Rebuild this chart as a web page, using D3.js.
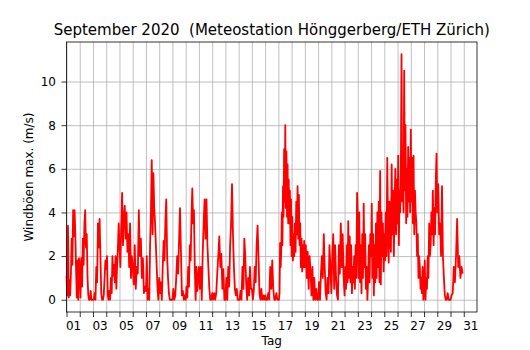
<!DOCTYPE html>
<html>
<head>
<meta charset="utf-8">
<script src="https://cdn.jsdelivr.net/npm/d3@7"></script>
<style>
body { margin: 0; background: #fff; }
svg text { font-family: "DejaVu Sans", sans-serif; fill: #000; }
.tick line { stroke: #000; stroke-width: 0.8; }
.tick line.grid-line { stroke: #b0b0b0; stroke-width: 0.8; }
</style>
</head>
<body>
<svg id="chart" width="530" height="350"></svg>
<script>
// Windböen max. (m/s), je Tag eine Liste von Messwerten (gleichmässig über den Tag verteilt)
const boeenTag01bis10 = [
    [1.1, 0.2, 3.4, 0.1, 0.9, 0.2, 1.2, 2.8, 1.6, 4.1, 2.9, 4.1, 3.0, 1.4, 0.1, 1.8, 0, 1.9],
    [1.5, 0.1, 1.9, 0.6, 2.8, 1.6, 3.5, 4.1, 2.4, 3.0, 1.0, 0.2, 0, 0, 0.4, 0, 0],
    [0, 0, 0.3, 0, 1.5, 0.8, 3.5, 2.4, 3.7, 2.0, 0.3, 0, 0, 0.2, 1.0, 1.8],
    [1.4, 2.0, 0.2, 0, 0.4, 0, 1.0, 0.3, 2.0, 1.1, 1.6, 0.8, 2.0, 0.5, 1.6, 2.4, 3.5],
    [2.5, 1.5, 3.3, 4.9, 2.5, 3.8, 4.3, 2.8, 4.0, 2.2, 3.0, 1.5, 3.5, 1.0, 2.0],
    [1.5, 0.7, 2.5, 0.5, 1.5, 1.2, 4.1, 2.0, 2.8, 1.0, 1.9, 0.3, 0.6],
    [0.4, 2.0, 0, 0.5, 0, 2.5, 4.0, 6.4, 3.0, 5.8, 4.2, 3.5, 2.5, 1.5, 0.5, 0],
    [1.0, 0.3, 0.8, 0, 1.5, 2.7, 1.8, 3.6, 4.6, 2.0, 1.0, 0.3, 0, 0, 0],
    [0, 0.5, 0, 0.2, 1.0, 2.0, 1.2, 2.7, 4.2, 2.2, 0.2, 0.4, 0, 0.2],
    [0, 0.6, 0.1, 1.5, 0.6, 2.5, 1.8, 3.8, 5.1, 3.5, 4.1, 1.5, 0, 1.5, 0.4, 1.0]
];
const boeenTag11bis20 = [
    [1.5, 0.5, 1.5, 0, 2.1, 3.5, 4.6, 2.8, 4.6, 2.5, 1.5, 0.5, 0, 0],
    [0.3, 0, 0.3, 0, 0.3, 1.2, 2.0, 2.9, 1.5, 2.1, 0.5, 1.4, 0],
    [0, 1.0, 0, 1.5, 0.6, 2.5, 3.5, 5.3, 3.0, 1.5, 0.5, 0.2, 0.5, 0],
    [0, 0, 0.4, 0, 1.5, 0.5, 2.8, 2.0, 0.7, 0, 1.0, 0.2, 1.5, 0.5],
    [0.5, 0, 0.4, 1.5, 0.8, 2.5, 3.4, 2.0, 0.3, 0, 0.5, 0, 0.2, 0],
    [0.2, 0, 0, 0.3, 0, 1.5, 0.5, 1.8, 0.5, 0, 0, 0.3, 0],
    [0, 0, 0.3, 2.6, 1.5, 2.2, 4.0, 2.5, 5.2, 3.8, 6.9, 4.5, 8.0, 4.2, 6.8, 3.8, 6.2, 3.5, 5.5, 3.5, 5.0, 2.5, 4.6],
    [2.0, 3.8, 1.8, 3.0, 2.0, 3.5, 2.2, 4.5, 3.0, 5.2, 2.8, 4.8, 2.5, 3.5, 1.5, 2.8, 1.3, 2.5, 1.5, 2.7],
    [1.5, 2.5, 1.0, 2.2, 0.5, 2.0, 1.3, 0.2, 1.5, 0, 1.0, 0, 0.5, 0],
    [0, 0.8, 0, 1.2, 2.0, 1.0, 3.0, 1.5, 0.3, 0, 1.0, 0.3, 2.5, 1.5]
];
const boeenTag21bis30 = [
    [0.3, 2.0, 3.0, 0.5, 2.5, 1.0, 0.2, 0, 2.5, 1.2, 3.5, 1.5, 3.0, 1.0],
    [0.2, 1.5, 0.5, 2.5, 0.8, 3.6, 1.0, 2.9, 0.8, 2.5, 0.3, 1.5, 0.8, 2.0, 0.5, 2.5, 1.0, 4.9],
    [3.5, 1.0, 4.0, 0.8, 2.5, 0.3, 3.0, 1.0, 4.4, 1.5, 3.0, 0.5, 1.5, 0, 1.0, 2.5, 0.8, 3.0],
    [2.0, 4.4, 1.0, 3.0, 0.2, 2.5, 0.8, 3.5, 1.0, 4.0, 1.5, 4.5, 0.8, 5.9, 0.7, 4.0, 2.0, 3.5, 1.3],
    [3.0, 1.8, 4.0, 2.0, 6.5, 3.5, 1.7, 4.5, 3.0, 2.2, 6.2, 3.0, 5.0, 2.0, 4.5, 6.0, 3.0, 5.5],
    [3.5, 6.6, 2.5, 5.0, 4.0, 6.0, 11.25, 4.5, 6.0, 4.0, 10.5, 5.0, 8.0, 3.5, 6.0, 3.8, 7.0, 4.5, 6.5, 4.0],
    [7.8, 4.5, 6.5, 3.5, 6.6, 3.0, 5.0, 4.0, 3.5, 2.0, 3.0, 1.0, 2.0, 1.5, 0.5, 1.0, 0.3, 1.5, 0],
    [0.3, 1.8, 0, 1.0, 0.5, 2.0, 1.0, 3.5, 2.0, 2.5, 4.0, 3.0, 5.0, 2.5, 4.2, 3.0, 5.5, 6.7],
    [4.0, 5.3, 3.0, 3.5, 2.0, 5.2, 2.0, 1.0, 0.2, 0, 0, 0.3, 0, 0],
    [0, 0.2, 0.3, 1.5, 0.8, 2.0, 3.7, 1.5, 2.0, 1.0, 1.5, 1.2]
];
const xTickLabels = ['01', '03', '05', '07', '09', '11', '13', '15', '17', '19', '21', '23', '25', '27', '29', '31'];
const yTicks = [0, 2, 4, 6, 8, 10];

const titel = 'September 2020  (Meteostation Hönggerberg/ETH Zürich)';
const plot = {left: 66.5, right: 477, top: 42, bottom: 312};

const svg = d3.select('#chart');
const x = d3.scaleLinear().domain([1, 32]).range([plot.left, plot.right]);
const y = d3.scaleLinear().domain([-0.5625, 11.8125]).range([plot.bottom, plot.top]);

// Tage -> Messpunkte (Zeit in Tagen, Wert)
let punkte = [];
boeenTag01bis10.concat(boeenTag11bis20, boeenTag21bis30).forEach((werte, i) => {
    let tag = i + 1;
    werte.forEach((v, j) => punkte.push([tag + j / werte.length, v]));
});

renderXAxis();
renderYAxis();

svg.append('path')
    .datum(punkte)
    .attr('fill', 'none')
    .attr('stroke', '#ff0000')
    .attr('stroke-width', 1.8)
    .attr('stroke-linejoin', 'round')
    .attr('d', d3.line().x(d => x(d[0])).y(d => y(d[1])));

svg.append('rect')
    .attr('x', plot.left)
    .attr('y', plot.top)
    .attr('width', plot.right - plot.left)
    .attr('height', plot.bottom - plot.top)
    .attr('fill', 'none')
    .attr('stroke', '#000')
    .attr('stroke-width', 0.8);

svg.append('text')
    .attr('x', (plot.left + plot.right) / 2)
    .attr('y', 34.5)
    .attr('text-anchor', 'middle')
    .style('font-size', '15px')
    .style('white-space', 'pre')
    .text(titel);

svg.append('text')
    .attr('x', (plot.left + plot.right) / 2)
    .attr('y', 345)
    .attr('text-anchor', 'middle')
    .style('font-size', '12px')
    .text('Tag');

svg.append('text')
    .attr('transform', `translate(32.5, ${(plot.top + plot.bottom) / 2}) rotate(-90)`)
    .attr('text-anchor', 'middle')
    .style('font-size', '12px')
    .text('Windböen max. (m/s)');

function renderXAxis(){
    let xAxis = d3.axisBottom(x)
        .tickValues(d3.range(1, 32))
        .tickSize(5)
        .tickFormat('');

    let g = svg.append('g')
        .attr('class', 'x-axis')
        .attr('transform', `translate(0, ${plot.bottom})`)
        .call(xAxis);
    g.select('.domain').remove();

    g.selectAll('g.tick')
        .append('line')
        .classed('grid-line', true)
        .attr('x1', 0)
        .attr('y1', 0)
        .attr('x2', 0)
        .attr('y2', -(plot.bottom - plot.top));

    // Beschriftung jeweils zur Tagesmitte
    let labelAxis = d3.axisBottom(x)
        .tickValues(xTickLabels.map(s => +s + 0.5))
        .tickSize(0)
        .tickPadding(9)
        .tickFormat((d, i) => xTickLabels[i]);

    let lg = svg.append('g')
        .attr('class', 'x-labels')
        .attr('transform', `translate(0, ${plot.bottom})`)
        .call(labelAxis);
    lg.select('.domain').remove();
    lg.selectAll('text').style('font-size', '12px').attr('fill', '#000');
}

function renderYAxis(){
    let yAxis = d3.axisLeft(y)
        .tickValues(yTicks)
        .tickSize(5)
        .tickPadding(5.5);

    let g = svg.append('g')
        .attr('class', 'y-axis')
        .attr('transform', `translate(${plot.left}, 0)`)
        .call(yAxis);
    g.select('.domain').remove();
    g.selectAll('text').style('font-size', '12px').attr('fill', '#000');

    g.selectAll('g.tick')
        .append('line')
        .classed('grid-line', true)
        .attr('x1', 0)
        .attr('y1', 0)
        .attr('x2', plot.right - plot.left)
        .attr('y2', 0);
}
</script>
</body>
</html>
